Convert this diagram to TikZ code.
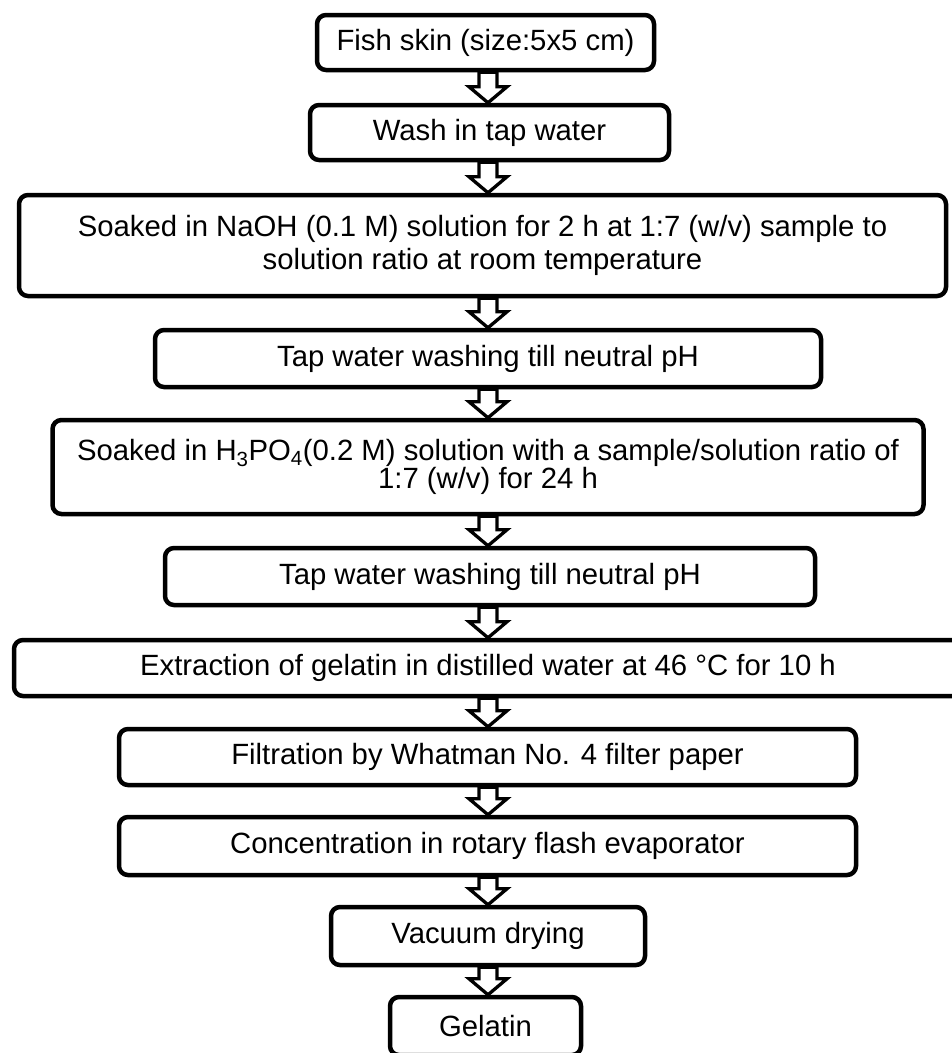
\documentclass[tikz,border=0pt]{standalone}
\usepackage{fontspec}
\setmainfont{Liberation Sans}
\usetikzlibrary{calc}
\newcommand\flowarrow[2]{\draw[arr] ($(#1.south -| ax)+(-9,0)$) -- ($(#2.north -| ax)+(-9,-16)$) -- ($(#2.north -| ax)+(-19,-16)$) -- (#2.north -| ax) -- ($(#2.north -| ax)+(19,-16)$) -- ($(#2.north -| ax)+(9,-16)$) -- ($(#1.south -| ax)+(9,0)$) -- cycle;}
\begin{document}
\begin{tikzpicture}[x=1pt,y=-1pt,
  box/.style={draw=black, line width=4.5pt, rounded corners=9pt, fill=white, align=center, inner sep=0pt, font=\fontsize{29.3}{33}\selectfont},
  arr/.style={draw=black, fill=white, line width=3.3pt, line join=miter}]
\useasboundingbox (0,0) rectangle (952,1053);
\fill[white] (0,0) rectangle (952,1053);
\clip (0,0) rectangle (952,1053);
\coordinate (ax) at (488,0);
\node[box, minimum width=337pt, minimum height=55pt] (fish) at (485.5,42.5) {Fish skin (size:5x5 cm)};
\node[box, minimum width=359pt, minimum height=55pt] (wash) at (489.5,132.5) {Wash in tap water};
\node[box, minimum width=927pt, minimum height=101pt] (naoh) at (482.5,245.5) {Soaked in NaOH (0.1 M) solution for 2 h at 1:7 (w/v) sample to\\solution ratio at room temperature};
\node[box, minimum width=666pt, minimum height=57pt] (tap1) at (488,358.5) {Tap water washing till neutral pH};
\node[box, minimum width=871pt, minimum height=94pt, font=\fontsize{29.3}{25}\selectfont] (acid) at (488,467) {Soaked in H\textsubscript{3}PO\textsubscript{4}(0.2 M) solution with a sample/solution ratio of\\1:7 (w/v) for 24 h};
\node[box, minimum width=650pt, minimum height=57pt] (tap2) at (490,576.5) {Tap water washing till neutral pH};
\node[box, minimum width=948pt, minimum height=56pt] (extr) at (488,668) {Extraction of gelatin in distilled water at 46 °C for 10 h};
\node[box, minimum width=737pt, minimum height=56pt] (filt) at (487.5,757) {Filtration by Whatman No. 4 filter paper};
\node[box, minimum width=737pt, minimum height=58pt] (conc) at (487.5,846) {Concentration in rotary flash evaporator};
\node[box, minimum width=314pt, minimum height=58pt] (vac) at (488,936) {Vacuum drying};
\node[box, minimum width=191pt, minimum height=58pt] (gel) at (485.5,1026) {Gelatin};
\flowarrow{fish}{wash}
\flowarrow{wash}{naoh}
\flowarrow{naoh}{tap1}
\flowarrow{tap1}{acid}
\flowarrow{acid}{tap2}
\flowarrow{tap2}{extr}
\flowarrow{extr}{filt}
\flowarrow{filt}{conc}
\flowarrow{conc}{vac}
\flowarrow{vac}{gel}
\end{tikzpicture}
\end{document}
